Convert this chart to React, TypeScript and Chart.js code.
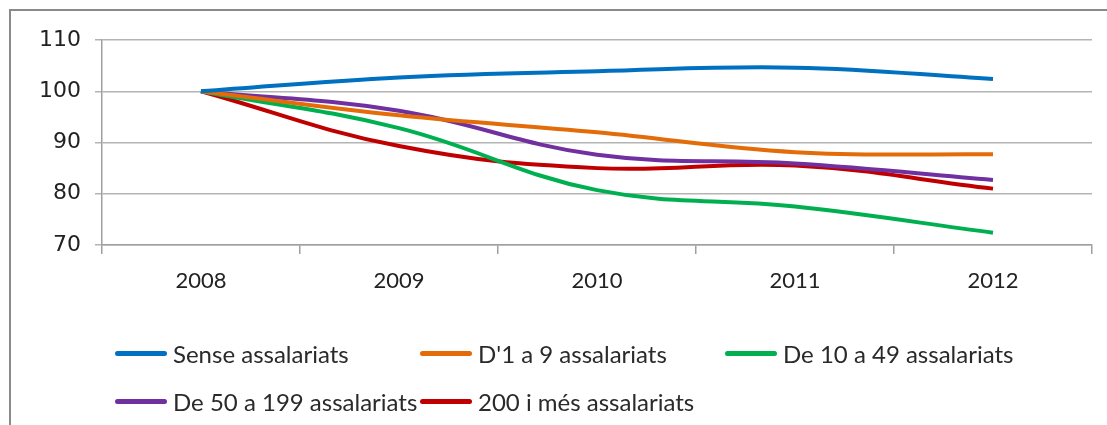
import React, { useEffect, useRef } from "react";
import { Chart, registerables } from "chart.js";

Chart.register(...registerables);

const years = ["2008", "2009", "2010", "2011", "2012"];
const senseAssalariats = [100, 102.7, 103.9, 104.6, 102.4];
const d1a9 = [100, 95.3, 92.0, 88.1, 87.7];
const de10a49 = [100, 92.8, 80.7, 77.5, 72.4];
const de50a199 = [100, 96.2, 87.6, 85.9, 82.7];
const de200 = [100, 89.3, 85.0, 85.5, 81.0];
const yTicks = [70, 80, 90, 100, 110];

const seriesNames = [
  "Sense assalariats",
  "D'1 a 9 assalariats",
  "De 10 a 49 assalariats",
  "De 50 a 199 assalariats",
  "200 i més assalariats",
];
const seriesColors = ["#0070C0", "#E36C09", "#00B050", "#7030A0", "#C00000"];
const seriesValues = [senseAssalariats, d1a9, de10a49, de50a199, de200];

const legendPos = [
  { x: 115, y: 353 },
  { x: 420, y: 353 },
  { x: 725, y: 353 },
  { x: 115, y: 401 },
  { x: 420, y: 401 },
];

export default function App() {
  const ref = useRef<HTMLCanvasElement | null>(null);

  useEffect(() => {
    if (!ref.current) return;
    const chart = new Chart(ref.current, {
      type: "line",
      data: {
        labels: years,
        datasets: seriesValues.map((vals, i) => ({
          label: seriesNames[i],
          data: vals,
          borderColor: seriesColors[i],
          backgroundColor: seriesColors[i],
          borderWidth: 4,
          pointRadius: 0,
          tension: 0.4,
          fill: false,
        })),
      },
      options: {
        responsive: false,
        animation: false,
        devicePixelRatio: 1,
        layout: { padding: { left: 0, top: 40, right: 15, bottom: 0 } },
        plugins: { legend: { display: false }, tooltip: { enabled: false } },
        scales: {
          x: {
            offset: true,
            grid: {
              offset: true,
              drawOnChartArea: false,
              drawTicks: true,
              tickLength: 9,
              color: "#a0a0a0",
              lineWidth: 1.5,
            },
            border: { color: "#a0a0a0", width: 1.5 },
            ticks: {
              color: "#222",
              font: { family: "Lato", size: 22 },
              padding: 14,
              maxRotation: 0,
            },
            afterFit: (axis: any) => {
              axis.height = 425 - 40 - 205;
            },
          },
          y: {
            min: 70,
            max: 110,
            afterBuildTicks: (axis: any) => {
              axis.ticks = yTicks.map((v) => ({ value: v }));
            },
            grid: {
              color: "#b4b4b4",
              lineWidth: 1.5,
              tickLength: 7,
            },
            border: { color: "#a0a0a0", width: 1.5 },
            ticks: {
              color: "#222",
              font: { family: "DejaVu Sans", size: 22 },
              padding: 14,
            },
            afterFit: (axis: any) => {
              axis.width = 102;
            },
          },
        },
      },
    });
    return () => chart.destroy();
  }, []);

  return (
    <div
      style={{
        position: "absolute",
        left: 0,
        top: 0,
        width: 1107,
        height: 425,
        overflow: "hidden",
        background: "#fff",
      }}
    >
      <div
        style={{
          position: "absolute",
          left: 9,
          top: 9,
          width: 1200,
          height: 500,
          borderLeft: "2px solid #8a8a8a",
          borderTop: "2px solid #8a8a8a",
        }}
      />
      <canvas
        ref={ref}
        width={1107}
        height={425}
        style={{ position: "absolute", left: 0, top: 0 }}
      />
      {seriesNames.map((name, i) => (
        <div
          key={name}
          style={{
            position: "absolute",
            left: legendPos[i].x,
            top: legendPos[i].y - 16,
            height: 32,
            display: "flex",
            alignItems: "center",
            fontFamily: "Lato",
            fontSize: 24,
            color: "#2a2a2a",
            whiteSpace: "nowrap",
          }}
        >
          <span
            style={{
              display: "inline-block",
              width: 52,
              height: 5,
              borderRadius: 3,
              background: seriesColors[i],
              marginRight: 6,
            }}
          />
          {name}
        </div>
      ))}
    </div>
  );
}
